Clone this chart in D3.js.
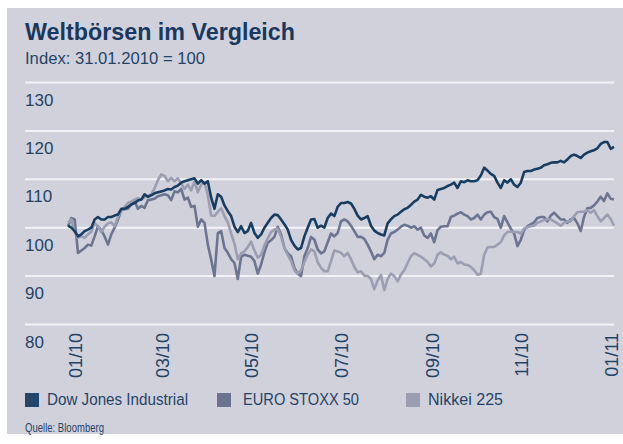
<!DOCTYPE html>
<html><head><meta charset="utf-8">
<script src="https://cdn.jsdelivr.net/npm/d3@7"></script>
<style>
body{margin:0;background:#fff}
text{font-family:"Liberation Sans",Arial,sans-serif;fill:#1f4468}
</style>
</head><body>
<svg id="c" width="623" height="444"></svg>
<script>
// ---- data ----
const title = "Weltbörsen im Vergleich";
const subtitle = "Index: 31.01.2010 = 100";
const source = "Quelle: Bloomberg";
const seriesNames = ["Dow Jones Industrial", "EURO STOXX 50", "Nikkei 225"];
const yTicks = [80, 90, 100, 110, 120, 130];
const xTickLabels = ["01/10", "03/10", "05/10", "07/10", "09/10", "11/10", "01/11"];
const xTickDates = ["2010-01-15", "2010-03-15", "2010-05-15", "2010-07-15", "2010-09-15", "2010-11-15", "2011-01-15"];
const firstDate = "2010-01-10";
const lastDate = "2011-01-17";

const dowJones = [
 100.3, 99.9, 99.2, 98.1, 98.5, 99.2, 99.5, 99.9, 101.6, 102.1,
 101.6, 101.6, 102.1, 102.1, 102.4, 102.6, 103.8, 103.8, 104.2, 104.7,
 105.0, 105.5, 105.7, 106.8, 106.3, 106.6, 107.0, 107.2, 107.4, 107.6,
 107.9, 107.8, 108.3, 108.6, 109.2, 109.5, 109.7, 109.9, 110.1, 109.0,
 109.7, 109.0, 109.5, 106.1, 103.8, 106.8, 106.3, 104.5, 103.3, 102.3,
 100.1, 99.0, 100.2, 98.8, 99.2, 100.9, 98.8, 97.8, 98.5, 99.9,
 100.9, 101.9, 102.6, 102.5, 101.6, 100.6, 99.5, 97.4, 96.2, 95.4,
 95.7, 98.1, 99.9, 101.6, 101.7, 99.9, 100.3, 99.9, 101.9, 102.8,
 102.3, 104.2,
 105.0, 105.0, 105.2, 104.9, 103.8, 102.4, 101.6, 101.9, 102.3, 100.3,
 99.3, 98.8, 98.5, 98.3, 100.8, 101.6, 102.3, 102.6, 103.2, 103.7,
 104.0, 104.6, 105.3, 105.7, 106.7, 106.3, 106.1, 106.4, 105.7, 107.7,
 107.9, 108.1, 108.5, 108.8, 109.2, 108.1, 109.5, 109.3, 109.7, 109.5,
 109.5, 109.7, 110.7, 112.3, 111.7, 111.0, 110.6, 109.2, 108.1, 109.7,
 109.2, 109.9, 108.8, 108.3, 109.2, 111.4, 111.6, 111.6, 111.9, 112.1,
 112.3, 112.8, 113.0, 113.3, 113.4, 113.4, 113.7, 113.4, 114.0, 114.7,
 115.0, 114.7, 114.3, 115.0, 115.4, 115.7, 115.9, 116.3, 117.2, 117.6,
 117.6, 116.2, 116.6
];
const euroStoxx = [
 100.2, 101.9, 101.6, 94.7, 95.2, 95.7, 96.4, 96.2, 98.1, 100.2,
 99.4, 98.1, 96.4, 98.5, 99.9, 101.6, 103.5, 103.7, 103.8, 104.7,
 105.4, 103.8, 104.4, 104.0, 105.6, 105.7, 105.9, 106.4, 106.6, 106.8,
 106.6, 105.6, 107.4, 107.2, 107.9, 105.7, 106.1, 104.2, 104.4, 100.1,
 101.6, 100.9, 96.4, 93.3, 89.9, 98.8, 99.2, 95.7, 94.7, 93.4,
 92.6, 89.3, 93.9, 94.3, 94.1, 93.9, 93.0, 90.4, 92.3, 94.8,
 96.8, 97.3, 98.0, 100.1, 98.5, 95.7, 94.6, 94.0, 91.6, 90.4,
 89.9, 94.0, 95.7, 98.0, 97.4, 95.4, 94.6, 95.0, 96.9, 98.7,
 98.1, 98.8,
 101.2, 101.6, 101.2, 100.3, 99.2, 98.0, 98.0, 97.6, 96.4, 95.0,
 93.4, 94.3, 94.0, 94.7, 97.4, 98.7, 99.0, 99.5, 100.1, 100.5,
 100.3, 99.9, 100.2, 99.5, 99.9, 98.3, 97.8, 98.7, 96.9, 99.4,
 100.1, 100.2, 100.2, 102.1, 102.4, 102.8, 103.1, 102.6, 102.3, 101.6,
 101.9, 102.6, 101.6, 102.6, 103.1, 103.2, 102.1, 101.7, 99.9, 102.3,
 101.0, 99.7, 98.7, 96.1, 97.4, 99.4, 100.2, 100.6, 101.0, 101.9,
 102.1, 102.1, 101.2, 102.4, 103.0, 102.3, 101.6, 101.6, 100.9, 101.6,
 101.9, 100.8, 99.2, 102.1, 103.9, 104.0, 104.5, 105.3, 106.3, 105.4,
 107.0, 105.9, 105.7
];
const nikkei = [
 100.9, 101.6, 99.0, 97.8, 98.1, 97.8, 98.5, 99.1, 100.8, 100.2,
 99.0, 100.1, 100.8, 101.0, 100.2, 102.1, 103.5, 104.2, 105.0, 105.3,
 105.7, 106.0, 105.7, 106.1, 106.4, 106.8, 108.0, 109.7, 110.9, 110.6,
 109.5, 110.2, 109.5, 110.1, 109.0, 107.9, 108.8, 107.6, 109.5, 107.2,
 108.8, 109.2, 106.6, 102.4, 102.3, 103.2, 103.9, 102.3, 101.0, 98.7,
 96.6, 93.4, 94.6, 95.0, 95.9, 97.0, 95.2, 93.7, 94.3, 96.2,
 97.7, 99.0, 99.5, 99.7, 98.0, 95.7, 94.3, 93.0, 91.1, 90.4,
 91.1, 92.8, 94.3, 95.4, 95.0, 92.8, 91.6, 90.9, 90.9, 93.0,
 95.2, 95.0,
 94.7, 94.0, 94.7, 93.4, 91.8, 90.7, 90.9, 90.0, 89.9, 89.3,
 87.2, 89.0, 90.1, 87.0, 89.3, 90.4, 89.9, 88.8, 90.2, 91.1,
 92.6, 94.0, 94.6, 94.3, 93.9, 93.4, 92.8, 91.9, 92.5, 94.3,
 94.8, 94.3, 94.1, 93.4, 93.9, 92.5, 92.8, 92.3, 92.2, 91.8,
 91.1, 90.2, 90.4, 94.3, 95.8, 95.9, 95.9, 96.4, 96.9, 98.3,
 99.0, 99.1, 99.0, 99.0, 98.7, 99.7, 100.0, 100.2, 100.3, 100.9,
 101.2, 101.5, 101.6, 101.6, 101.2, 100.8, 100.3, 100.9, 101.2, 101.2,
 102.3, 103.1, 103.2, 103.2, 103.5, 103.0, 103.5, 102.3, 101.2, 101.9,
 102.6, 101.7, 100.3
];
const seriesColors = ["#173e62", "#6b7592", "#9b9eb3"];
const legendColors = ["#21476d", "#6b7592", "#9b9eb3"];

// ---- chart ----
const svg = d3.select("#c");
const parse = d3.timeParse("%Y-%m-%d");
const t0 = parse(firstDate), t1 = parse(lastDate);
const n = dowJones.length;
const dates = d3.range(n).map(i => new Date(+t0 + i * (t1 - t0) / (n - 1)));

const x = d3.scaleTime().domain([t0, t1]).range([68, 614]);
const y = d3.scaleLinear().domain([80, 130]).range([324, 82]);

svg.append("rect").attr("x", 7).attr("y", 8).attr("width", 616).attr("height", 426).attr("fill", "#d1d1db");

svg.append("text").attr("x", 25).attr("y", 40).text(title)
  .attr("textLength", 270).attr("lengthAdjust", "spacingAndGlyphs")
  .style("font-weight", "bold").style("font-size", "24px").style("fill", "#17395f");
svg.append("text").attr("x", 25).attr("y", 64).text(subtitle)
  .attr("textLength", 180).attr("lengthAdjust", "spacingAndGlyphs")
  .style("font-size", "16px");

// y axis with gridlines
const gy = svg.append("g").attr("transform", "translate(25,0)")
  .call(d3.axisRight(y).tickValues(yTicks).tickSize(589).tickFormat(d3.format("d")));
gy.select(".domain").remove();
gy.selectAll(".tick line").attr("stroke", "#f3f3f7").attr("stroke-width", 2);
gy.selectAll(".tick text").attr("x", 0).attr("dy", 23).attr("text-anchor", "start")
  .attr("fill", null).style("font-size", "17px").style("font-family", "'Liberation Sans',Arial,sans-serif");

// x axis labels
const gx = svg.append("g").attr("transform", "translate(0,333)")
  .call(d3.axisBottom(x).tickValues(xTickDates.map(parse)).tickSize(0)
        .tickFormat((d, i) => xTickLabels[i]));
gx.select(".domain").remove();
gx.selectAll(".tick text").attr("transform", "rotate(-90)").attr("x", 0).attr("y", 0)
  .attr("dy", "0.35em").attr("text-anchor", "end").attr("fill", null)
  .style("font-size", "18px").style("font-family", "'Liberation Sans',Arial,sans-serif");

// lines
const line = d3.line().x((d, i) => x(dates[i])).y(d => y(d));
const data = [dowJones, euroStoxx, nikkei];
[1, 2, 0].forEach(si => {
  svg.append("path").datum(data[si]).attr("d", line)
    .attr("fill", "none").attr("stroke", seriesColors[si])
    .attr("stroke-width", 2.6).attr("stroke-linejoin", "round");
});

// legend
const legendX = [25, 217, 406];
const legendTextX = [47, 243, 428];
const legendTextW = [141, 116, 75];
seriesNames.forEach((name, i) => {
  svg.append("rect").attr("x", legendX[i]).attr("y", 393).attr("width", 14).attr("height", 14)
    .attr("fill", legendColors[i]);
  svg.append("text").attr("x", legendTextX[i]).attr("y", 405).text(name)
    .attr("textLength", legendTextW[i]).attr("lengthAdjust", "spacingAndGlyphs")
    .style("font-size", "16px");
});

svg.append("text").attr("x", 25).attr("y", 432).text(source)
  .attr("textLength", 79).attr("lengthAdjust", "spacingAndGlyphs")
  .style("font-size", "12.5px");
</script>
</body></html>
